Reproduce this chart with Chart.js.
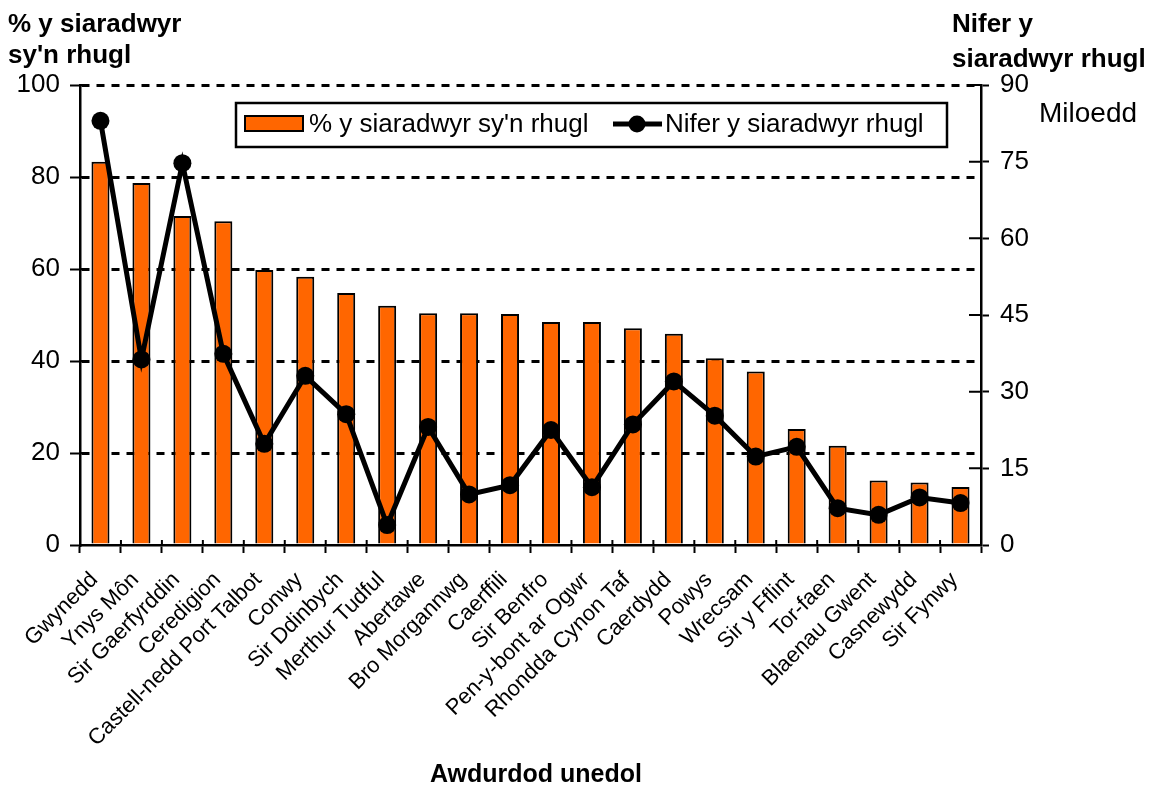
<!DOCTYPE html>
<html>
<head>
<meta charset="utf-8">
<script src="https://cdn.jsdelivr.net/npm/chart.js@4"></script>
<style>
  html, body { margin: 0; padding: 0; background: #fff; }
  #wrap { width: 1155px; height: 787px; }
</style>
</head>
<body>
<div id="wrap"><canvas id="chart" width="1155" height="787"></canvas></div>
<script>
const areas = ["Gwynedd", "Ynys Môn", "Sir Gaerfyrddin", "Ceredigion", "Castell-nedd Port Talbot",
  "Conwy", "Sir Ddinbych", "Merthur Tudful", "Abertawe", "Bro Morgannwg", "Caerffili",
  "Sir Benfro", "Pen-y-bont ar Ogwr", "Rhondda Cynon Taf", "Caerdydd", "Powys", "Wrecsam",
  "Sir y Fflint", "Tor-faen", "Blaenau Gwent", "Casnewydd", "Sir Fynwy"];
const percentFluent = [83.3, 78.7, 71.5, 70.4, 59.8, 58.3, 54.8, 52.0, 50.4, 50.4, 50.2,
  48.5, 48.5, 47.1, 45.9, 40.6, 37.7, 25.2, 21.6, 14.0, 13.6, 12.6];
const fluentThousands = [83.0, 36.3, 74.7, 37.4, 19.8, 33.1, 25.6, 3.9, 23.1, 9.9, 11.7,
  22.5, 11.3, 23.6, 32.0, 25.3, 17.3, 19.2, 7.2, 5.9, 9.3, 8.2];
const leftTicks = [0, 20, 40, 60, 80, 100];
const rightTicks = [0, 15, 30, 45, 60, 75, 90];

const FONT = "'Liberation Sans', Arial, sans-serif";
const ORANGE = "#ff6600";

// tick marks that also reach a little inside the plot, like the original
const innerTicks = {
  id: "innerTicks",
  afterDraw(chart) {
    const { ctx, scales } = chart;
    ctx.save();
    ctx.strokeStyle = "#000";
    ctx.lineWidth = 2;
    ctx.beginPath();
    scales.y.ticks.forEach(t => {
      const py = scales.y.getPixelForValue(t.value);
      ctx.moveTo(scales.y.right, py);
      ctx.lineTo(scales.y.right + 6, py);
    });
    scales.y2.ticks.forEach(t => {
      const py = scales.y2.getPixelForValue(t.value);
      ctx.moveTo(scales.y2.left, py);
      ctx.lineTo(scales.y2.left - 12, py);
    });
    const xs = scales.x;
    const step = (xs.right - xs.left) / areas.length;
    for (let i = 0; i <= areas.length; i++) {
      const px = xs.left + step * i;
      ctx.moveTo(px, xs.top);
      ctx.lineTo(px, xs.top - 5);
    }
    ctx.stroke();
    ctx.restore();
  }
};

const textPlugin = {
  id: "texts",
  afterDraw(chart) {
    const ctx = chart.ctx;
    ctx.save();
    ctx.fillStyle = "#000";
    ctx.textBaseline = "alphabetic";
    ctx.textAlign = "left";
    ctx.font = "bold 26px " + FONT;
    ctx.fillText("% y siaradwyr", 8, 32);
    ctx.fillText("sy'n rhugl", 8, 63);
    ctx.fillText("Nifer y", 952, 32);
    ctx.fillText("siaradwyr rhugl", 952, 67);
    ctx.font = "28px " + FONT;
    ctx.fillText("Miloedd", 1039, 122);
    ctx.font = "bold 25px " + FONT;
    ctx.textAlign = "center";
    ctx.fillText("Awdurdod unedol", 536, 782);

    // legend
    ctx.fillStyle = "#fff";
    ctx.fillRect(236, 103, 711, 44);
    ctx.lineWidth = 2.5;
    ctx.strokeStyle = "#000";
    ctx.strokeRect(236, 103, 711, 44);
    ctx.fillStyle = ORANGE;
    ctx.fillRect(245, 116, 58, 15);
    ctx.lineWidth = 2;
    ctx.strokeRect(245, 116, 58, 15);
    ctx.fillStyle = "#000";
    ctx.font = "26px " + FONT;
    ctx.textAlign = "left";
    ctx.textBaseline = "middle";
    ctx.fillText("% y siaradwyr sy'n rhugl", 309, 125);
    ctx.lineWidth = 5;
    ctx.beginPath();
    ctx.moveTo(613, 124);
    ctx.lineTo(662, 124);
    ctx.stroke();
    ctx.beginPath();
    ctx.arc(637, 124, 8.5, 0, Math.PI * 2);
    ctx.fill();
    ctx.fillText("Nifer y siaradwyr rhugl", 665, 125);
    ctx.restore();
  }
};

new Chart(document.getElementById("chart"), {
  data: {
    labels: areas,
    datasets: [
      {
        type: "line",
        label: "Nifer y siaradwyr rhugl",
        data: fluentThousands,
        yAxisID: "y2",
        borderColor: "#000",
        backgroundColor: "#000",
        borderWidth: 5,
        pointRadius: 9,
        pointBackgroundColor: "#000",
        pointBorderWidth: 0,
        tension: 0,
        order: 0,
      },
      {
        type: "bar",
        label: "% y siaradwyr sy'n rhugl",
        data: percentFluent,
        yAxisID: "y",
        backgroundColor: ORANGE,
        borderColor: "#000",
        borderWidth: 2,
        barPercentage: 0.44,
        categoryPercentage: 1,
        order: 1,
      },
    ],
  },
  options: {
    responsive: false,
    animation: false,
    layout: { padding: { top: 85, left: 0, right: 0, bottom: 0 } },
    plugins: {
      legend: { display: false },
      tooltip: { enabled: false },
    },
    scales: {
      x: {
        offset: true,
        afterFit(scale) { scale.height = 242; },
        grid: {
          offset: true,
          drawOnChartArea: false,
          drawTicks: true,
          tickLength: 8,
          tickWidth: 2,
          tickColor: "#000",
        },
        border: { display: true, color: "#000", width: 2.5 },
        ticks: {
          autoSkip: false,
          minRotation: 45,
          maxRotation: 45,
          labelOffset: -6,
          padding: 14,
          color: "#000",
          font: { family: FONT, size: 22 },
        },
      },
      y: {
        position: "left",
        min: 0,
        max: 100,
        afterFit(scale) { scale.width = 80; },
        afterBuildTicks(scale) { scale.ticks = leftTicks.map(v => ({ value: v })); },
        grid: {
          color: ctx => (ctx.tick && ctx.tick.value === 0 ? "rgba(0,0,0,0)" : "#000"),
          lineWidth: 3,
          drawTicks: true,
          tickLength: 10,
          tickColor: "#000",
          tickWidth: 2,
        },
        border: { display: true, color: "#000", width: 2.5, dash: [8, 7] },
        ticks: {
          padding: 10,
          color: "#000",
          font: { family: FONT, size: 26 },
        },
      },
      y2: {
        position: "right",
        min: 0,
        max: 90,
        afterFit(scale) { scale.width = 174; },
        afterBuildTicks(scale) { scale.ticks = rightTicks.map(v => ({ value: v })); },
        grid: {
          drawOnChartArea: false,
          drawTicks: true,
          tickLength: 8,
          tickColor: "#000",
          tickWidth: 2,
        },
        border: { display: true, color: "#000", width: 2.5 },
        ticks: {
          padding: 11,
          color: "#000",
          font: { family: FONT, size: 26 },
        },
      },
    },
  },
  plugins: [innerTicks, textPlugin],
});
</script>
</body>
</html>
